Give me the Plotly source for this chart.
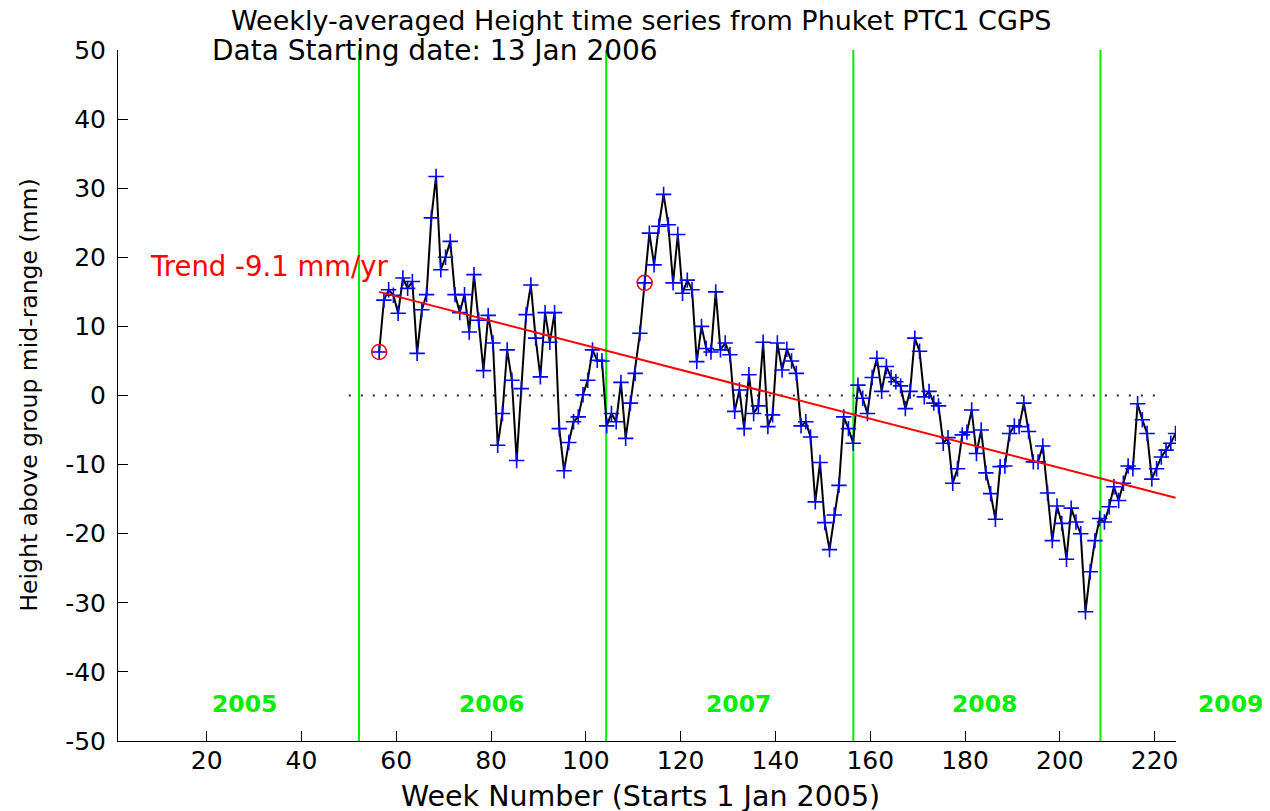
import plotly.graph_objects as go

# ---- data ----
first_week = 56.4          # week number of the first weekly average
height_mm = [
    6.3, 13.8, 15.3, 14.5, 11.9, 17.0, 15.5, 16.5, 6.1, 12.4,
    14.6, 25.7, 31.7, 18.2, 20.0, 22.3, 14.6, 12.0, 14.6, 9.2,
    17.5, 10.9, 3.6, 11.6, 7.6, -7.2, -2.6, 6.6, 2.2, -9.4,
    1.0, 11.7, 16.0, 8.3, 2.7, 12.0, 7.7, 12.0, -4.8, -10.9,
    -6.8, -3.8, -3.1, 0.1, 2.2, 6.6, 5.1, 5.0, -4.4, -2.6,
    -3.8, 1.9, -6.2, -1.1, 3.2, 9.0, 16.3, 23.5, 18.9, 24.5,
    29.1, 24.7, 16.3, 23.3, 14.8, 16.7, 15.3, 4.9, 10.0, 6.8,
    6.3, 15.0, 6.6, 7.6, 5.9, -2.3, 0.8, -4.8, 3.0, -2.6,
    -1.5, 7.7, -4.5, -2.8, 7.6, 3.7, 6.7, 5.0, 3.2, -4.4,
    -3.8, -6.0, -15.4, -9.7, -18.4, -22.3, -17.3, -13.0, -3.1, -4.8,
    -6.9, 1.5, -0.4, -2.6, 2.6, 5.4, 0.6, 4.2, 2.6, 2.0,
    1.4, -1.9, 0.6, 8.3, 6.4, -0.2, 0.6, -1.1, -1.5, -6.9,
    -6.1, -12.7, -10.6, -5.7, -5.3, -2.1, -8.4, -5.0, -11.2, -14.2,
    -17.9, -10.3, -10.2, -5.5, -4.4, -4.5, -1.1, -5.2, -9.6, -9.6,
    -7.3, -14.1, -21.0, -16.0, -18.5, -23.7, -16.3, -18.3, -20.0, -31.3,
    -25.5, -21.0, -17.8, -18.3, -16.1, -13.2, -15.2, -12.7, -10.2, -10.6,
    -1.2, -3.5, -5.5, -12.1, -10.6, -8.9, -7.9, -6.9, -5.5,
]
weeks = [first_week + i for i in range(len(height_mm))]

circled_index = [0, 56]                    # points marked with red circles
trend_weeks = [56.4, 224.4]
trend_mm = [15.0, -14.8]
trend_label = "Trend -9.1 mm/yr"

year_boundaries = [52.14, 104.29, 156.43, 208.57]
year_labels = ["2005", "2006", "2007", "2008", "2009"]
year_label_weeks = [28.0, 80.0, 132.3, 184.2, 236.0]

zero_line_weeks = [50, 222]

x_range = [1.3, 224.5]
y_range = [-50, 50]
x_ticks = [20, 40, 60, 80, 100, 120, 140, 160, 180, 200, 220]
y_ticks = [-50, -40, -30, -20, -10, 0, 10, 20, 30, 40, 50]

title1 = "Weekly-averaged Height time series from Phuket PTC1 CGPS"
title2 = "Data Starting date: 13 Jan 2006"
x_title = "Week Number (Starts 1 Jan 2005)"
y_title = "Height above group mid-range (mm)"

FONT = "DejaVu Sans"
GREEN = "#00ee00"

fig = go.Figure()

# green year boundaries
for wb in year_boundaries:
    fig.add_trace(go.Scatter(x=[wb, wb], y=y_range, mode="lines",
                             line=dict(color=GREEN, width=2),
                             hoverinfo="skip", showlegend=False))

# dotted zero line
fig.add_trace(go.Scatter(x=zero_line_weeks, y=[0, 0], mode="lines",
                         line=dict(color="#222222", width=2, dash="2px,10px"),
                         hoverinfo="skip", showlegend=False))

# series
fig.add_trace(go.Scatter(x=weeks, y=height_mm, mode="lines+markers",
                         line=dict(color="black", width=2),
                         marker=dict(symbol="cross-thin", size=11,
                                     line=dict(color="#0000ff", width=1.6),
                                     color="#0000ff"),
                         showlegend=False))

# trend
fig.add_trace(go.Scatter(x=trend_weeks, y=trend_mm, mode="lines",
                         line=dict(color="#ff0000", width=2),
                         showlegend=False))

# red circles
fig.add_trace(go.Scatter(x=[weeks[i] for i in circled_index],
                         y=[height_mm[i] for i in circled_index],
                         mode="markers",
                         marker=dict(symbol="circle-open", size=15,
                                     color="#ff0000",
                                     line=dict(color="#ff0000", width=1.5)),
                         showlegend=False))

annotations = []
annotations.append(dict(x=33.3, y=18.8, xref="x", yref="y", text=trend_label,
                        showarrow=False, xanchor="center", yanchor="middle",
                        font=dict(family=FONT, size=27.5, color="#ff0000")))
# year labels: placed in paper units so the one beyond the axis end still shows
for lab, xw in zip(year_labels, year_label_weeks):
    xp = (xw - x_range[0]) / (x_range[1] - x_range[0])
    yp = (-44.6 - y_range[0]) / (y_range[1] - y_range[0])
    annotations.append(dict(x=xp, y=yp, xref="paper", yref="paper",
                            text="<b>" + lab + "</b>", showarrow=False,
                            xanchor="center", yanchor="middle",
                            font=dict(family=FONT, size=23.5, color=GREEN)))
annotations.append(dict(x=0.4943, y=1.043, xref="paper", yref="paper",
                        text=title1, showarrow=False, xanchor="center",
                        yanchor="middle",
                        font=dict(family=FONT, size=27, color="black")))
annotations.append(dict(x=0.087, y=1.0, xref="paper", yref="paper",
                        text=title2, showarrow=False, xanchor="left",
                        yanchor="middle",
                        font=dict(family=FONT, size=28, color="black")))
annotations.append(dict(x=0.4943, y=-0.081, xref="paper", yref="paper",
                        text=x_title, showarrow=False, xanchor="center",
                        yanchor="middle",
                        font=dict(family=FONT, size=28.5, color="black")))
annotations.append(dict(x=-0.085, y=0.5, xref="paper", yref="paper",
                        text=y_title, showarrow=False, textangle=-90,
                        xanchor="center", yanchor="middle",
                        font=dict(family=FONT, size=23.5, color="black")))

fig.update_layout(
    width=1262, height=803,
    margin=dict(l=110, r=94, t=42, b=70),
    paper_bgcolor="white", plot_bgcolor="white",
    annotations=annotations,
    xaxis=dict(range=x_range, tickvals=x_ticks,
               ticktext=[str(v) for v in x_ticks],
               ticks="inside", ticklen=10, tickcolor="black",
               showline=True, linecolor="black", linewidth=1,
               showgrid=False, zeroline=False, ticklabelstandoff=-3,
               tickfont=dict(family=FONT, size=25, color="black")),
    yaxis=dict(range=y_range, tickvals=y_ticks,
               ticktext=[str(v) for v in y_ticks],
               ticks="inside", ticklen=10, tickcolor="black",
               showline=True, linecolor="black", linewidth=1,
               showgrid=False, zeroline=False, ticklabelstandoff=6,
               tickfont=dict(family=FONT, size=25, color="black")),
)

fig.write_html("out.html")
